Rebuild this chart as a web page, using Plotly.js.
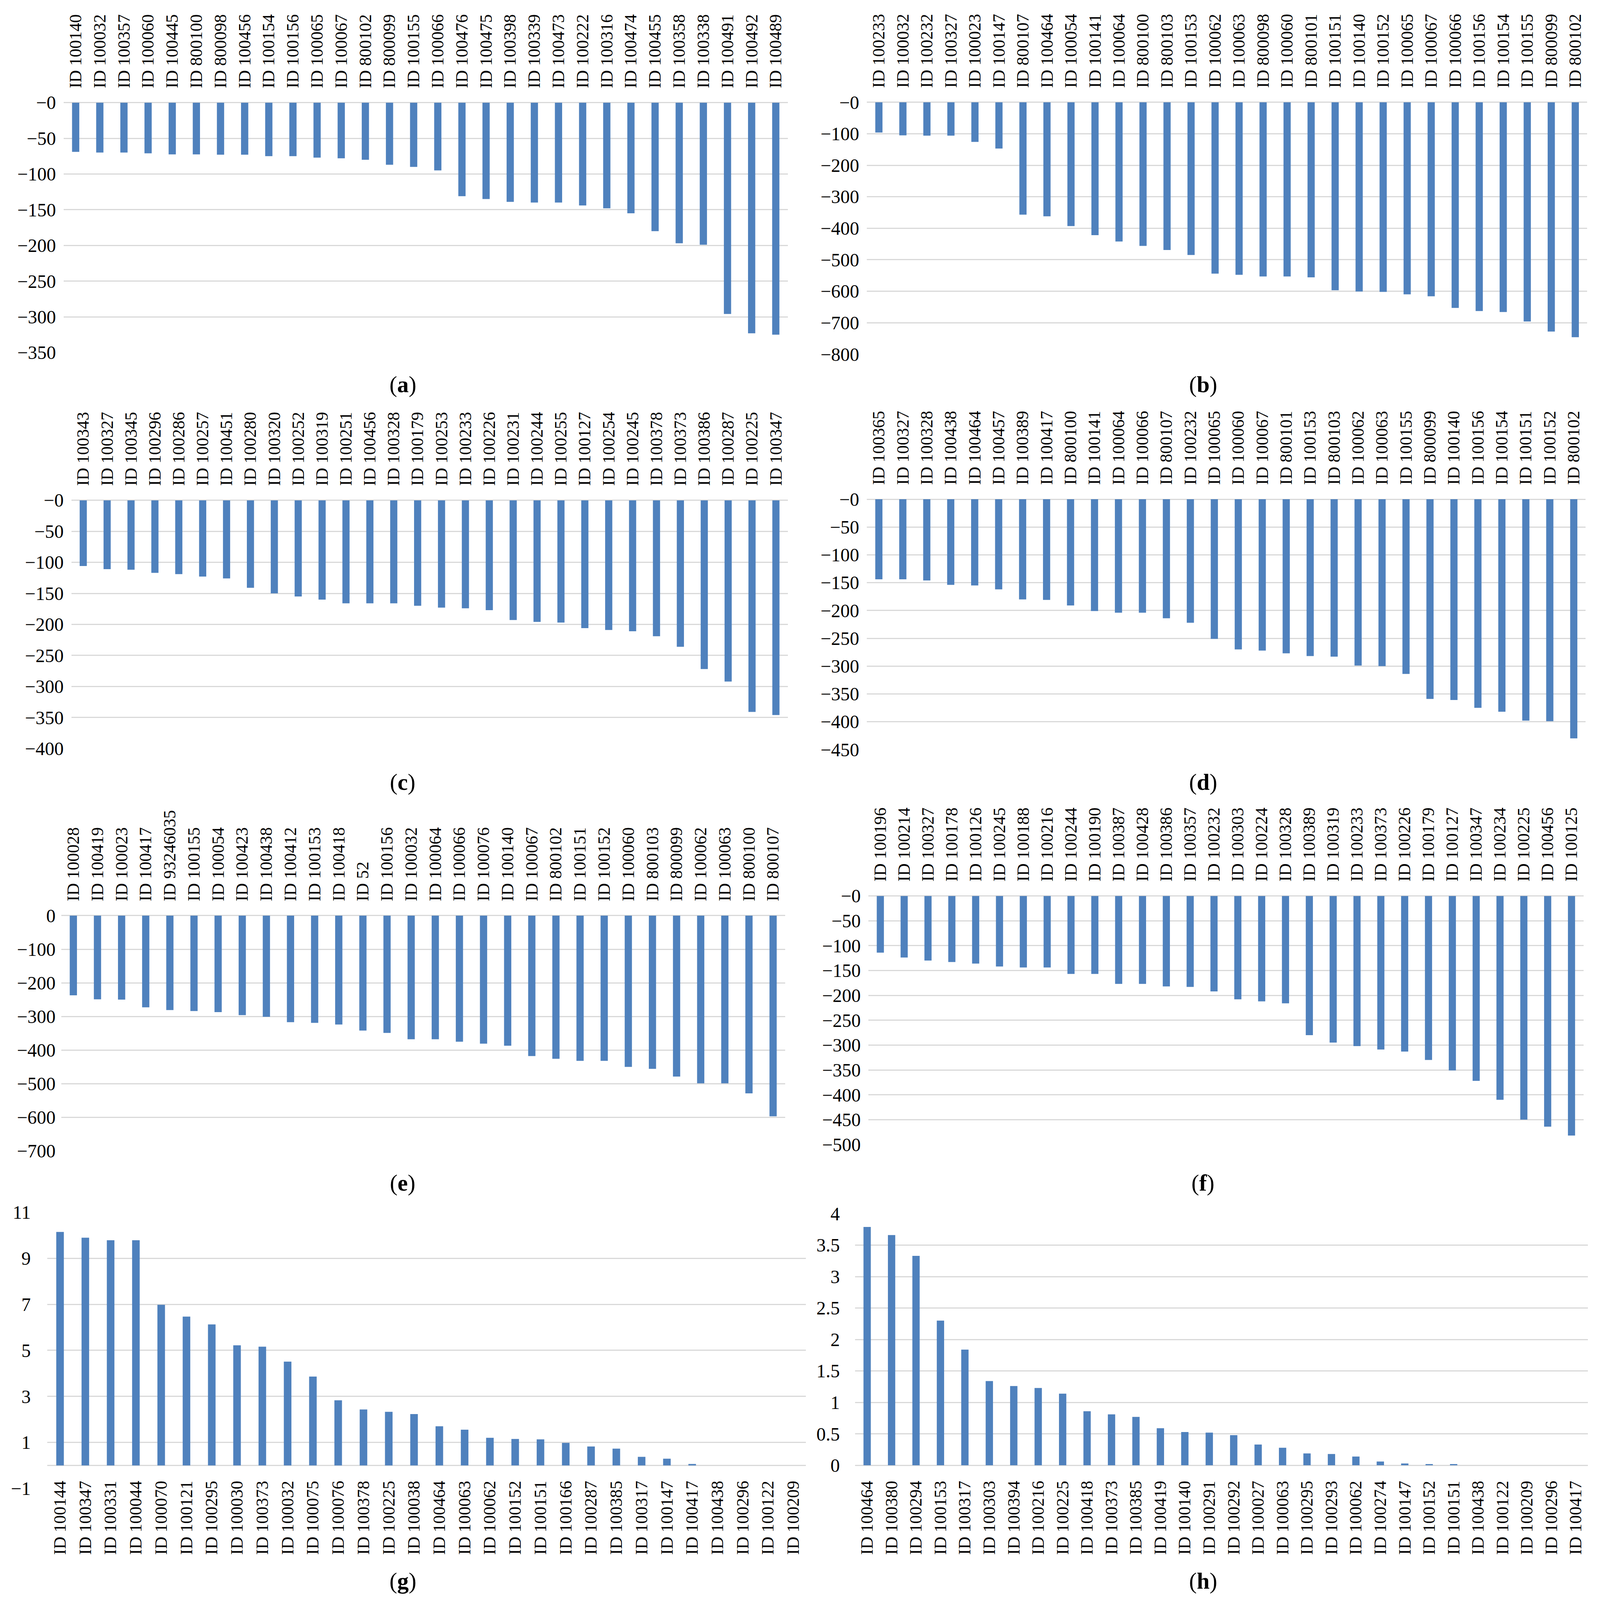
<!DOCTYPE html>
<html><head><meta charset="utf-8">
<script src="https://cdn.plot.ly/plotly-3.0.1.min.js"></script>
<style>html,body{margin:0;padding:0;background:#fff;overflow:hidden}</style>
</head><body>
<div id="chart"></div>
<script>
const labelsA = ["ID 100140","ID 100032","ID 100357","ID 100060","ID 100445","ID 800100","ID 800098","ID 100456","ID 100154","ID 100156","ID 100065","ID 100067","ID 800102","ID 800099","ID 100155","ID 100066","ID 100476","ID 100475","ID 100398","ID 100339","ID 100473","ID 100222","ID 100316","ID 100474","ID 100455","ID 100358","ID 100338","ID 100491","ID 100492","ID 100489"];
const valuesA = [-69,-70,-70,-71,-72.5,-72.5,-73,-73,-75,-75,-77,-78,-80,-87,-90,-95,-131,-135,-139,-140,-140,-144,-148,-155,-180,-197,-199,-296,-323,-325];

const labelsB = ["ID 100233","ID 100032","ID 100232","ID 100327","ID 100023","ID 100147","ID 800107","ID 100464","ID 100054","ID 100141","ID 100064","ID 800100","ID 800103","ID 100153","ID 100062","ID 100063","ID 800098","ID 100060","ID 800101","ID 100151","ID 100140","ID 100152","ID 100065","ID 100067","ID 100066","ID 100156","ID 100154","ID 100155","ID 800099","ID 800102"];
const valuesB = [-96,-105,-106,-106,-126,-147,-357,-362,-393,-422,-442,-456,-469,-485,-544,-548,-553,-553,-556,-597,-601,-602,-610,-616,-653,-663,-666,-696,-728,-746];

const labelsC = ["ID 100343","ID 100327","ID 100345","ID 100296","ID 100286","ID 100257","ID 100451","ID 100280","ID 100320","ID 100252","ID 100319","ID 100251","ID 100456","ID 100328","ID 100179","ID 100253","ID 100233","ID 100226","ID 100231","ID 100244","ID 100255","ID 100127","ID 100254","ID 100245","ID 100378","ID 100373","ID 100386","ID 100287","ID 100225","ID 100347"];
const valuesC = [-106,-111,-112,-117,-119,-123,-126,-141,-150,-155,-160,-166,-166,-166,-170,-173,-174,-177,-193,-196,-197,-206,-209,-211,-219,-236,-272,-292,-341,-346];

const labelsD = ["ID 100365","ID 100327","ID 100328","ID 100438","ID 100464","ID 100457","ID 100389","ID 100417","ID 800100","ID 100141","ID 100064","ID 100066","ID 800107","ID 100232","ID 100065","ID 100060","ID 100067","ID 800101","ID 100153","ID 800103","ID 100062","ID 100063","ID 100155","ID 800099","ID 100140","ID 100156","ID 100154","ID 100151","ID 100152","ID 800102"];
const valuesD = [-144,-144,-146,-154,-155,-162,-180,-181,-191,-201,-204,-204,-214,-222,-251,-270,-272,-277,-282,-283,-299,-300,-314,-359,-361,-375,-382,-398,-399,-430];

const labelsE = ["ID 100028","ID 100419","ID 100023","ID 100417","ID 93246035","ID 100155","ID 100054","ID 100423","ID 100438","ID 100412","ID 100153","ID 100418","ID 52","ID 100156","ID 100032","ID 100064","ID 100066","ID 100076","ID 100140","ID 100067","ID 800102","ID 100151","ID 100152","ID 100060","ID 800103","ID 800099","ID 100062","ID 100063","ID 800100","ID 800107"];
const valuesE = [-237,-249,-250,-273,-281,-284,-287,-296,-301,-317,-319,-324,-342,-349,-368,-368,-375,-381,-387,-418,-426,-432,-432,-450,-456,-479,-499,-499,-529,-597];

const labelsF = ["ID 100196","ID 100214","ID 100327","ID 100178","ID 100126","ID 100245","ID 100188","ID 100216","ID 100244","ID 100190","ID 100387","ID 100428","ID 100386","ID 100357","ID 100232","ID 100303","ID 100224","ID 100328","ID 100389","ID 100319","ID 100233","ID 100373","ID 100226","ID 100179","ID 100127","ID 100347","ID 100234","ID 100225","ID 100456","ID 100125"];
const valuesF = [-114,-124,-130,-133,-136,-142,-144,-144,-157,-157,-177,-177,-182,-183,-192,-208,-212,-216,-280,-295,-302,-309,-313,-330,-351,-372,-410,-450,-464,-482];

const labelsG = ["ID 100144","ID 100347","ID 100331","ID 100044","ID 100070","ID 100121","ID 100295","ID 100030","ID 100373","ID 100032","ID 100075","ID 100076","ID 100378","ID 100225","ID 100038","ID 100464","ID 100063","ID 100062","ID 100152","ID 100151","ID 100166","ID 100287","ID 100385","ID 100317","ID 100147","ID 100417","ID 100438","ID 100296","ID 100122","ID 100209"];
const valuesG = [10.15,9.9,9.79,9.79,6.98,6.47,6.13,5.22,5.16,4.51,3.86,2.83,2.43,2.33,2.23,1.7,1.55,1.2,1.15,1.13,0.98,0.82,0.73,0.37,0.29,0.06,0,0,0,0];

const labelsH = ["ID 100464","ID 100380","ID 100294","ID 100153","ID 100317","ID 100303","ID 100394","ID 100216","ID 100225","ID 100418","ID 100373","ID 100385","ID 100419","ID 100140","ID 100291","ID 100292","ID 100027","ID 100063","ID 100295","ID 100293","ID 100062","ID 100274","ID 100147","ID 100152","ID 100151","ID 100438","ID 100122","ID 100209","ID 100296","ID 100417"];
const valuesH = [3.79,3.66,3.33,2.3,1.84,1.34,1.26,1.23,1.14,0.86,0.81,0.77,0.59,0.53,0.52,0.48,0.33,0.28,0.19,0.18,0.14,0.06,0.03,0.02,0.02,0,0,0,0,0];

const yTicksA = [0,-50,-100,-150,-200,-250,-300,-350];
const yTicksB = [0,-100,-200,-300,-400,-500,-600,-700,-800];
const yTicksC = [0,-50,-100,-150,-200,-250,-300,-350,-400];
const yTicksD = [0,-50,-100,-150,-200,-250,-300,-350,-400,-450];
const yTicksE = [0,-100,-200,-300,-400,-500,-600,-700];
const yTicksF = [0,-50,-100,-150,-200,-250,-300,-350,-400,-450,-500];
const yTicksG = [-1,1,3,5,7,9,11];
const yTicksH = [0,0.5,1,1.5,2,2.5,3,3.5,4];

// reference frame (4151 x 4788); the page fills the actual window
const RW = 4151, RH = 4788;
const W = window.innerWidth || RW, H = window.innerHeight || RH;
const kx = W / RW, ky = H / RH, km = (kx + ky) / 2;
document.getElementById("chart").style.width = W + "px";
document.getElementById("chart").style.height = H + "px";
const fx = p => p / RW;
const fy = p => 1 - p / RH;
const FONT = "Liberation Serif, Times New Roman, serif";
const BAR = "#4F81BD";
const GRID = "#d9d9d9";

function tickText(v, minusZero) {
  if (v === 0) return minusZero ? "\u22120" : "0";
  if (v < 0) return "\u2212" + Math.abs(v);
  return String(v);
}

const panels = [
  {id:"a", labels:labelsA, values:valuesA, ticks:yTicksA, xd:[165,2044], yd:[307,1055], range:[-350,0], top:true, mz:true, ytl:9, cap:[1045,1150]},
  {id:"b", labels:labelsB, values:valuesB, ticks:yTicksB, xd:[2249,4118], yd:[306,1060], range:[-800,0], top:true, mz:true, ytl:9, cap:[3121,1150]},
  {id:"c", labels:labelsC, values:valuesC, ticks:yTicksC, xd:[185,2044], yd:[1497,2240], range:[-400,0], top:true, mz:true, ytl:9, cap:[1045,2340]},
  {id:"d", labels:labelsD, values:valuesD, ticks:yTicksD, xd:[2249,4114], yd:[1494,2243], range:[-450,0], top:true, mz:true, ytl:9, cap:[3121,2340]},
  {id:"e", labels:labelsE, values:valuesE, ticks:yTicksE, xd:[159,2037], yd:[2740,3444], range:[-700,0], top:true, mz:false, ytl:4, cap:[1045,3540]},
  {id:"f", labels:labelsF, values:valuesF, ticks:yTicksF, xd:[2253,4108], yd:[2681,3425], range:[-500,0], top:true, mz:true, ytl:9, cap:[3121,3540]},
  {id:"g", labels:labelsG, values:valuesG, ticks:yTicksG, xd:[123,2091], yd:[3628,4454], range:[-1,11], top:false, mz:false, ytl:32, cap:[1045,4731], zeroPx:4385},
  {id:"h", labels:labelsH, values:valuesH, ticks:yTicksH, xd:[2218,4120], yd:[3632,4385], range:[0,4], top:false, mz:false, ytl:28, cap:[3121,4731]}
];

const data = [];
const layout = {
  width: W, height: H,
  margin: {l:0, r:0, t:0, b:0},
  paper_bgcolor: "#fff", plot_bgcolor: "rgba(0,0,0,0)",
  showlegend: false,
  bargap: 0.7,
  font: {family: FONT, color: "#000", size: 48},
  annotations: []
};

panels.forEach((p, i) => {
  const n = i + 1;
  const xk = n === 1 ? "x" : "x" + n;
  const yk = n === 1 ? "y" : "y" + n;
  const xName = n === 1 ? "xaxis" : "xaxis" + n;
  const yName = n === 1 ? "yaxis" : "yaxis" + n;
  data.push({
    type: "bar", x: p.labels, y: p.values, xaxis: xk, yaxis: yk,
    marker: {color: BAR, line: {width: 0}}, hoverinfo: "skip"
  });
  const xa = {
    domain: [fx(p.xd[0]), fx(p.xd[1])],
    type: "category",
    tickmode: "linear", tick0: 0, dtick: 1,
    side: p.top ? "top" : "bottom",
    tickangle: -90,
    tickfont: {family: FONT, size: Math.round(51 * ky), color: "#000"},
    showgrid: false, zeroline: false, showline: false,
    ticks: "outside", ticklen: Math.round((p.top ? 31 : 24) * ky), tickcolor: "rgba(0,0,0,0)",
    fixedrange: true
  };
  if (p.zeroPx !== undefined) {
    xa.anchor = "free";
    xa.position = fy(p.zeroPx);
  } else {
    xa.anchor = yk;
  }
  layout[xName] = xa;
  layout[yName] = {
    domain: [fy(p.yd[1]), fy(p.yd[0])],
    anchor: xk,
    range: p.range,
    tickmode: "array",
    tickvals: p.ticks,
    ticktext: p.ticks.map(v => tickText(v, p.mz)),
    tickfont: {family: FONT, size: Math.round(52 * km), color: "#000"},
    showgrid: true, gridcolor: GRID, gridwidth: Math.max(2, Math.round(3 * ky)),
    zeroline: true, zerolinecolor: GRID, zerolinewidth: Math.max(2, Math.round(3 * ky)),
    showline: false,
    ticks: "outside", ticklen: Math.round(p.ytl * kx), tickcolor: "rgba(0,0,0,0)",
    fixedrange: true
  };
  layout.annotations.push({
    xref: "paper", yref: "paper", x: fx(p.cap[0]), y: fy(p.cap[1]),
    text: "(<b>" + p.id + "</b>)", showarrow: false,
    xanchor: "center", yanchor: "middle",
    font: {family: FONT, size: Math.round(64 * km), color: "#000"}
  });
});

Plotly.newPlot("chart", data, layout, {displayModeBar: false, staticPlot: true});
</script>
</body></html>
